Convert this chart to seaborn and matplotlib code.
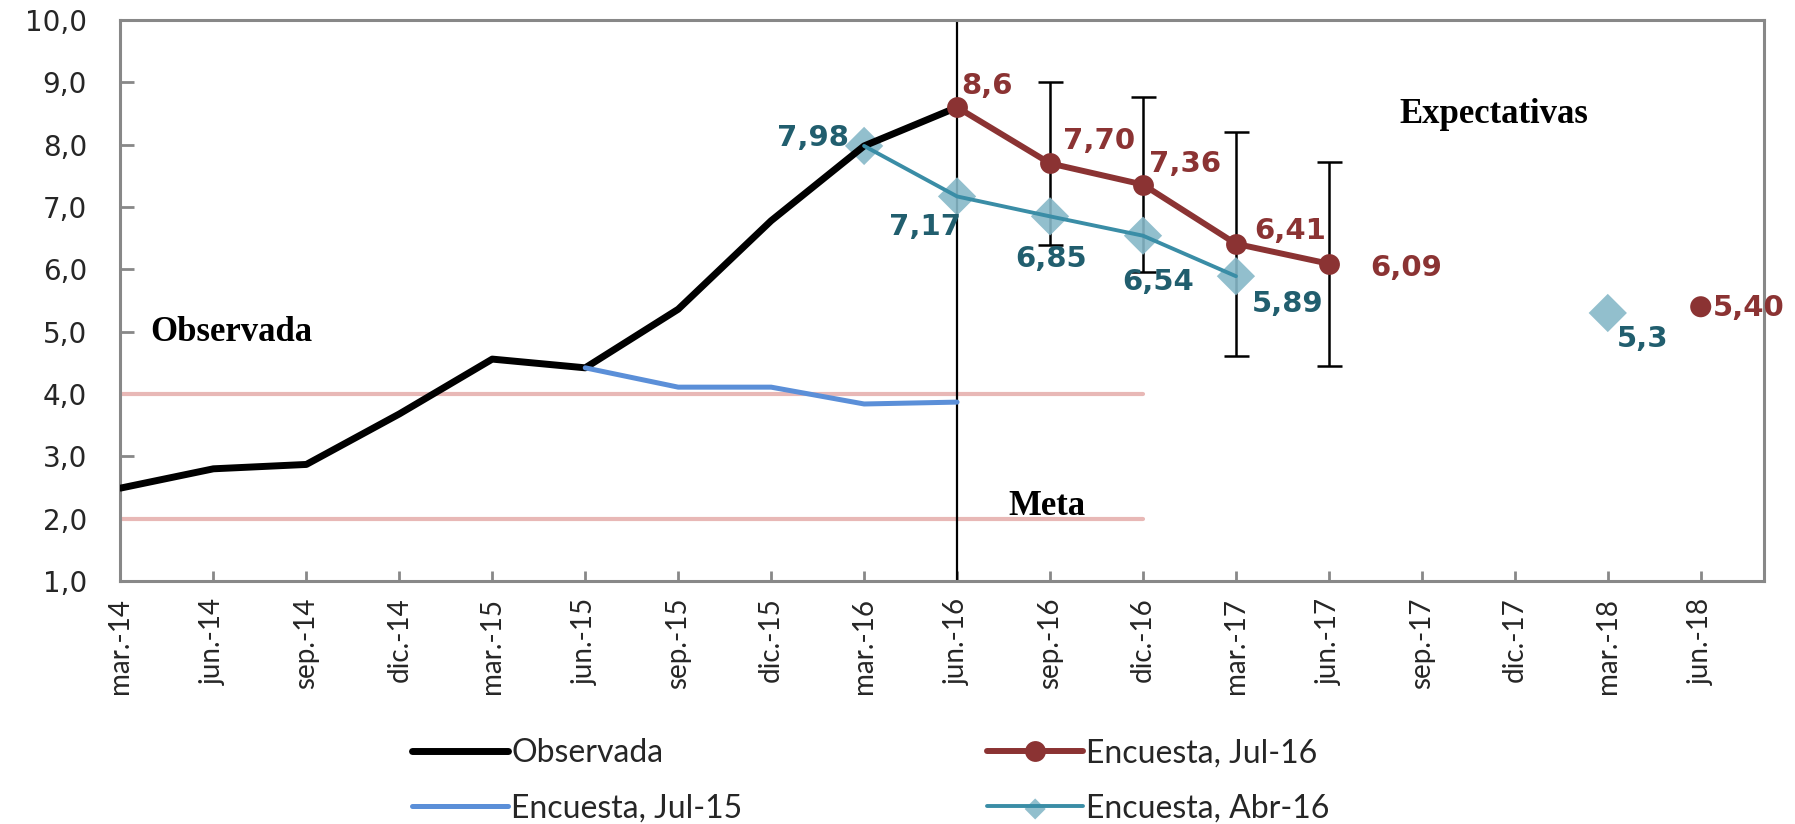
import matplotlib
matplotlib.use('Agg')
import matplotlib.pyplot as plt
import numpy as np
import pandas as pd
import seaborn as sns
from matplotlib.legend_handler import HandlerTuple

# ---------------- data ----------------
quarters = ['mar.-14', 'jun.-14', 'sep.-14', 'dic.-14', 'mar.-15', 'jun.-15',
            'sep.-15', 'dic.-15', 'mar.-16', 'jun.-16', 'sep.-16', 'dic.-16',
            'mar.-17', 'jun.-17', 'sep.-17', 'dic.-17', 'mar.-18', 'jun.-18']

obs_q = ['mar.-14', 'jun.-14', 'sep.-14', 'dic.-14', 'mar.-15', 'jun.-15',
         'sep.-15', 'dic.-15', 'mar.-16', 'jun.-16']
obs_vals = [2.49, 2.80, 2.87, 3.68, 4.56, 4.42, 5.36, 6.78, 7.98, 8.60]

jul15_q = ['jun.-15', 'sep.-15', 'dic.-15', 'mar.-16', 'jun.-16']
jul15_vals = [4.42, 4.11, 4.11, 3.84, 3.87]

jul16_q = ['jun.-16', 'sep.-16', 'dic.-16', 'mar.-17', 'jun.-17']
jul16_vals = [8.60, 7.70, 7.36, 6.41, 6.09]
jul16_labels = ['8,6', '7,70', '7,36', '6,41', '6,09']
jul16_far_q = ['jun.-18']
jul16_far_vals = [5.40]
jul16_far_labels = ['5,40']

abr16_q = ['mar.-16', 'jun.-16', 'sep.-16', 'dic.-16', 'mar.-17']
abr16_vals = [7.98, 7.17, 6.85, 6.54, 5.89]
abr16_labels = ['7,98', '7,17', '6,85', '6,54', '5,89']
abr16_far_q = ['mar.-18']
abr16_far_vals = [5.30]
abr16_far_labels = ['5,3']

err_q = ['sep.-16', 'dic.-16', 'mar.-17', 'jun.-17']
err_low = [6.39, 5.96, 4.61, 4.45]
err_high = [9.01, 8.76, 8.21, 7.73]

meta_q = quarters[:12]
meta_low = 2.0
meta_high = 4.0

y_ticks = [1, 2, 3, 4, 5, 6, 7, 8, 9, 10]
y_tick_labels = ['1,0', '2,0', '3,0', '4,0', '5,0', '6,0', '7,0', '8,0', '9,0', '10,0']

legend_labels = ['Observada', 'Encuesta, Jul-15', 'Encuesta, Jul-16', 'Encuesta, Abr-16']

# ---------------- styling ----------------
sns.set_theme(style='white')
plt.rcParams['font.family'] = ['DejaVu Sans']

C_OBS = '#000000'
C_JUL15 = '#5B8FD8'
C_JUL16 = '#8B3333'
C_ABR16_LINE = '#3A8DA6'
C_ABR16_MK = '#86B8C8'
C_ABR16_TXT = '#215E6E'
C_META = '#E8B8B6'
C_SPINE = '#888888'

pos = {q: i for i, q in enumerate(quarters)}


def frame(qs, vals):
    return pd.DataFrame({'x': [pos[q] for q in qs], 'y': vals})


fig = plt.figure(figsize=(17.95, 8.24), dpi=100)
ax = fig.add_axes([0.0671, 0.2949, 0.9156, 0.6808])

# target band lines
meta_df = pd.DataFrame({'x': [pos[q] for q in meta_q]})
meta_df['lo'] = meta_low
meta_df['hi'] = meta_high
sns.lineplot(data=meta_df, x='x', y='lo', color=C_META, lw=3, ax=ax, zorder=1)
sns.lineplot(data=meta_df, x='x', y='hi', color=C_META, lw=3, ax=ax, zorder=1)

# vertical divider at jun.-16
ax.axvline(pos['jun.-16'], color='black', lw=1.6, zorder=2)

# error bars
ex = [pos[q] for q in err_q]
mid = [(a + b) / 2 for a, b in zip(err_low, err_high)]
half = [(b - a) / 2 for a, b in zip(err_low, err_high)]
ax.errorbar(ex, mid, yerr=half, fmt='none', ecolor='black', elinewidth=1.8,
            capsize=9, capthick=1.8, zorder=3)

# Abr-16 diamonds (under the line)
abr_df = frame(abr16_q, abr16_vals)
abr_far_df = frame(abr16_far_q, abr16_far_vals)
sns.scatterplot(data=pd.concat([abr_df, abr_far_df]), x='x', y='y', marker='D',
                s=380, color=C_ABR16_MK, edgecolor='none', alpha=0.9, ax=ax, zorder=4)
abr_marker_handle = ax.collections[-1]

# observed
sns.lineplot(data=frame(obs_q, obs_vals), x='x', y='y', color=C_OBS, lw=5, ax=ax,
             zorder=5, label=legend_labels[0], solid_capstyle='round')
# Jul-15 survey
sns.lineplot(data=frame(jul15_q, jul15_vals), x='x', y='y', color=C_JUL15, lw=3.6, ax=ax,
             zorder=5, label=legend_labels[1], solid_capstyle='round')
# Abr-16 line
sns.lineplot(data=abr_df, x='x', y='y', color=C_ABR16_LINE, lw=2.8, ax=ax, zorder=6,
             label=legend_labels[3], solid_capstyle='round')
# Jul-16 survey
sns.lineplot(data=frame(jul16_q, jul16_vals), x='x', y='y', color=C_JUL16, lw=4.3, ax=ax,
             marker='o', markersize=15, markeredgewidth=0, zorder=7, label=legend_labels[2],
             solid_capstyle='round')
sns.scatterplot(data=frame(jul16_far_q, jul16_far_vals), x='x', y='y', marker='o', s=230,
                color=C_JUL16, edgecolor='none', ax=ax, zorder=7)

# data labels
lab_font = dict(fontsize=21, fontweight='bold', family='DejaVu Sans')
red_offsets = [(3, 15), (9, 16), (4, 15), (13, 9), (30, -3)]
for q, v, t, off in zip(jul16_q, jul16_vals, jul16_labels, red_offsets):
    ax.annotate(t, (pos[q], v), xytext=off, textcoords='offset points', ha='left',
                va='center', color=C_JUL16, zorder=9, **lab_font)
for q, v, t in zip(jul16_far_q, jul16_far_vals, jul16_far_labels):
    ax.annotate(t, (pos[q], v), xytext=(9, -1), textcoords='offset points', ha='left',
                va='center', color=C_JUL16, zorder=9, annotation_clip=False, **lab_font)

teal_offsets = [((-11, 6), 'right'), ((-23, -22), 'center'), ((1, -31), 'center'),
                ((11, -33), 'center'), ((37, -20), 'center')]
for q, v, t, (off, ha) in zip(abr16_q, abr16_vals, abr16_labels, teal_offsets):
    ax.annotate(t, (pos[q], v), xytext=off, textcoords='offset points', ha=ha,
                va='center', color=C_ABR16_TXT, zorder=9, **lab_font)
for q, v, t in zip(abr16_far_q, abr16_far_vals, abr16_far_labels):
    ax.annotate(t, (pos[q], v), xytext=(25, -19), textcoords='offset points', ha='center',
                va='center', color=C_ABR16_TXT, zorder=9, **lab_font)

# region annotations
serif = dict(family='Liberation Serif', fontweight='bold', fontsize=25, color='black')
ax.text(0.32, 4.98, 'Observada', ha='left', va='center', **serif)
ax.text(14.77, 8.49, 'Expectativas', ha='center', va='center', **serif)
ax.text(9.97, 2.2, 'Meta', ha='center', va='center', **serif)

# axes
ax.set_xlim(0, 17.68)
ax.set_ylim(1, 10)
ax.set_xticks(range(len(quarters)))
ax.set_xticklabels(quarters, rotation=90, family='Lato', fontsize=20)
ax.set_yticks(y_ticks)
ax.set_yticklabels(y_tick_labels, fontsize=20)
ax.tick_params(axis='y', direction='in', length=10, width=2, color=C_SPINE, pad=24, left=True)
ax.tick_params(axis='x', direction='in', length=7, width=2, color=C_SPINE, pad=12, bottom=True)
ax.set_xlabel('')
ax.set_ylabel('')
for s in ax.spines.values():
    s.set_color(C_SPINE)
    s.set_linewidth(2.2)
ax.grid(False)

# legend: one entry per legend box, placed in a 2x2 layout
handles, labels = ax.get_legend_handles_labels()
hmap = dict(zip(labels, handles))
ax.get_legend().remove()
hmap[legend_labels[3]] = (abr_marker_handle, hmap[legend_labels[3]])
leg_font = dict(family='Lato', size=23)
anchors = {legend_labels[0]: (0.2296, 0.086), legend_labels[1]: (0.2296, 0.019),
           legend_labels[2]: (0.550, 0.086), legend_labels[3]: (0.550, 0.019)}
mscale = {legend_labels[0]: 1.0, legend_labels[1]: 1.0,
          legend_labels[2]: 1.0, legend_labels[3]: 0.55}
for lab in legend_labels:
    fig.legend([hmap[lab]], [lab], handler_map={tuple: HandlerTuple(ndivide=1, pad=0)},
               loc='center left', bbox_to_anchor=anchors[lab], frameon=False,
               prop=leg_font, handlelength=3.0, handletextpad=0.1, borderaxespad=0,
               borderpad=0, markerscale=mscale[lab])

fig.savefig('out.png', dpi=100)
